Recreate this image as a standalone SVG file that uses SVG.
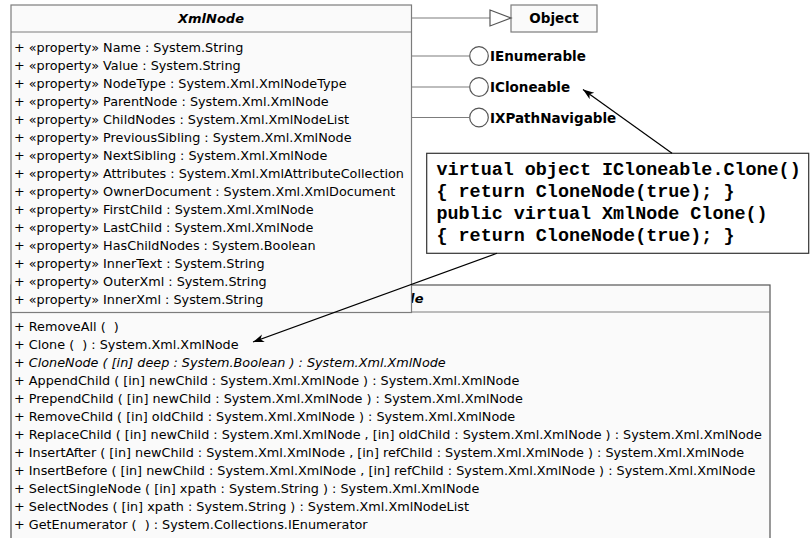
<svg xmlns="http://www.w3.org/2000/svg" width="810" height="538" viewBox="0 0 810 538">
  <style>
    .box { fill: #fafafa; stroke: #7c7c7c; stroke-width: 1.2; }
    .box2 { fill: #fafafa; stroke: #555555; stroke-width: 1.2; }
    .sep { stroke: #7c7c7c; stroke-width: 1.2; }
    .mem { font-family: "DejaVu Sans", Verdana, sans-serif; font-size: 12.8px; fill: #000; }
    .title { font-family: "DejaVu Sans", Verdana, sans-serif; font-size: 13px; font-weight: bold; font-style: italic; fill: #000; }
    .lbl { font-family: "DejaVu Sans", Verdana, sans-serif; font-size: 13.5px; font-weight: bold; fill: #000; }
    .code { font-family: "Liberation Mono", "Courier New", monospace; font-size: 18.4px; font-weight: bold; fill: #000; }
    .link { stroke: #7c7c7c; stroke-width: 1.2; fill: none; }
    .anchor { stroke: #000; stroke-width: 1.2; fill: none; }
  </style>
  <defs>
    <marker id="head" markerUnits="userSpaceOnUse" markerWidth="12" markerHeight="10" refX="11" refY="4" orient="auto">
      <path d="M0,0 L11,4 L0,8 L3,4 Z" fill="#000"/>
    </marker>
  </defs>

  <!-- operations compartment of XmlNode (drawn behind the attribute box) -->
  <g id="xmlnode-operations">
    <rect class="box2" x="11" y="285" width="759" height="270"/>
    <line class="sep" x1="11" y1="312" x2="770" y2="312"/>
    <text class="title" x="390.5" y="303" text-anchor="middle">XmlNode</text>
    <text class="mem" x="14" y="331">+ RemoveAll (&#160; )</text>
    <text class="mem" x="14" y="349">+ Clone (&#160; ) : System.Xml.XmlNode</text>
    <text class="mem" x="14" y="367" font-style="italic">+ CloneNode ( [in] deep : System.Boolean ) : System.Xml.XmlNode</text>
    <text class="mem" x="14" y="385">+ AppendChild ( [in] newChild : System.Xml.XmlNode ) : System.Xml.XmlNode</text>
    <text class="mem" x="14" y="403">+ PrependChild ( [in] newChild : System.Xml.XmlNode ) : System.Xml.XmlNode</text>
    <text class="mem" x="14" y="421">+ RemoveChild ( [in] oldChild : System.Xml.XmlNode ) : System.Xml.XmlNode</text>
    <text class="mem" x="14" y="439">+ ReplaceChild ( [in] newChild : System.Xml.XmlNode , [in] oldChild : System.Xml.XmlNode ) : System.Xml.XmlNode</text>
    <text class="mem" x="14" y="457">+ InsertAfter ( [in] newChild : System.Xml.XmlNode , [in] refChild : System.Xml.XmlNode ) : System.Xml.XmlNode</text>
    <text class="mem" x="14" y="475">+ InsertBefore ( [in] newChild : System.Xml.XmlNode , [in] refChild : System.Xml.XmlNode ) : System.Xml.XmlNode</text>
    <text class="mem" x="14" y="493">+ SelectSingleNode ( [in] xpath : System.String ) : System.Xml.XmlNode</text>
    <text class="mem" x="14" y="511">+ SelectNodes ( [in] xpath : System.String ) : System.Xml.XmlNodeList</text>
    <text class="mem" x="14" y="529">+ GetEnumerator (&#160; ) : System.Collections.IEnumerator</text>
  </g>

  <!-- XmlNode class with its properties -->
  <g id="xmlnode">
    <rect class="box" x="11" y="5" width="400.5" height="307.5"/>
    <line class="sep" x1="11" y1="32" x2="411.5" y2="32"/>
    <text class="title" x="211" y="23" text-anchor="middle">XmlNode</text>
    <text class="mem" x="14" y="51.5">+ «property» Name : System.String</text>
    <text class="mem" x="14" y="69.5">+ «property» Value : System.String</text>
    <text class="mem" x="14" y="87.5">+ «property» NodeType : System.Xml.XmlNodeType</text>
    <text class="mem" x="14" y="105.5">+ «property» ParentNode : System.Xml.XmlNode</text>
    <text class="mem" x="14" y="123.5">+ «property» ChildNodes : System.Xml.XmlNodeList</text>
    <text class="mem" x="14" y="141.5">+ «property» PreviousSibling : System.Xml.XmlNode</text>
    <text class="mem" x="14" y="159.5">+ «property» NextSibling : System.Xml.XmlNode</text>
    <text class="mem" x="14" y="177.5">+ «property» Attributes : System.Xml.XmlAttributeCollection</text>
    <text class="mem" x="14" y="195.5">+ «property» OwnerDocument : System.Xml.XmlDocument</text>
    <text class="mem" x="14" y="213.5">+ «property» FirstChild : System.Xml.XmlNode</text>
    <text class="mem" x="14" y="231.5">+ «property» LastChild : System.Xml.XmlNode</text>
    <text class="mem" x="14" y="249.5">+ «property» HasChildNodes : System.Boolean</text>
    <text class="mem" x="14" y="267.5">+ «property» InnerText : System.String</text>
    <text class="mem" x="14" y="285.5">+ «property» OuterXml : System.String</text>
    <text class="mem" x="14" y="303.5">+ «property» InnerXml : System.String</text>
  </g>

  <!-- base class -->
  <g id="object">
    <rect class="box" x="511" y="5" width="86" height="27"/>
    <text class="lbl" x="554" y="23" text-anchor="middle">Object</text>
  </g>

  <!-- implemented interfaces (lollipops) -->
  <g id="ienumerable">
    <circle cx="479" cy="56" r="9.3" fill="#fff" stroke="#555" stroke-width="1.2"/>
    <text class="lbl" x="490" y="61">IEnumerable</text>
  </g>
  <g id="icloneable">
    <circle cx="479" cy="87" r="9.3" fill="#fff" stroke="#555" stroke-width="1.2"/>
    <text class="lbl" x="490" y="92">ICloneable</text>
  </g>
  <g id="ixpathnavigable">
    <circle cx="479" cy="117.5" r="9.3" fill="#fff" stroke="#555" stroke-width="1.2"/>
    <text class="lbl" x="490" y="122.5">IXPathNavigable</text>
  </g>

  <!-- note with the Clone implementations -->
  <g id="note">
    <rect x="426.7" y="153.3" width="382" height="100" fill="#fff" stroke="#333" stroke-width="1.2"/>
    <text class="code" x="436.5" y="175">virtual object ICloneable.Clone()</text>
    <text class="code" x="436.5" y="197">{ return CloneNode(true); }</text>
    <text class="code" x="436.5" y="219">public virtual XmlNode Clone()</text>
    <text class="code" x="436.5" y="241">{ return CloneNode(true); }</text>
  </g>

  <!-- connectors -->
  <g id="connectors">
    <line class="link" x1="411.5" y1="18" x2="490" y2="18"/>
    <path d="M490,10 L511,18 L490,26 Z" fill="#fff" stroke="#555" stroke-width="1.2"/>
    <line class="link" x1="411.5" y1="56" x2="469.7" y2="56"/>
    <line class="link" x1="411.5" y1="87" x2="469.7" y2="87"/>
    <line class="link" x1="411.5" y1="117.5" x2="469.7" y2="117.5"/>
    <line class="anchor" x1="672" y1="153.3" x2="583" y2="89.5" marker-end="url(#head)"/>
    <line class="anchor" x1="497" y1="253.3" x2="253" y2="342" marker-end="url(#head)"/>
  </g>
</svg>
